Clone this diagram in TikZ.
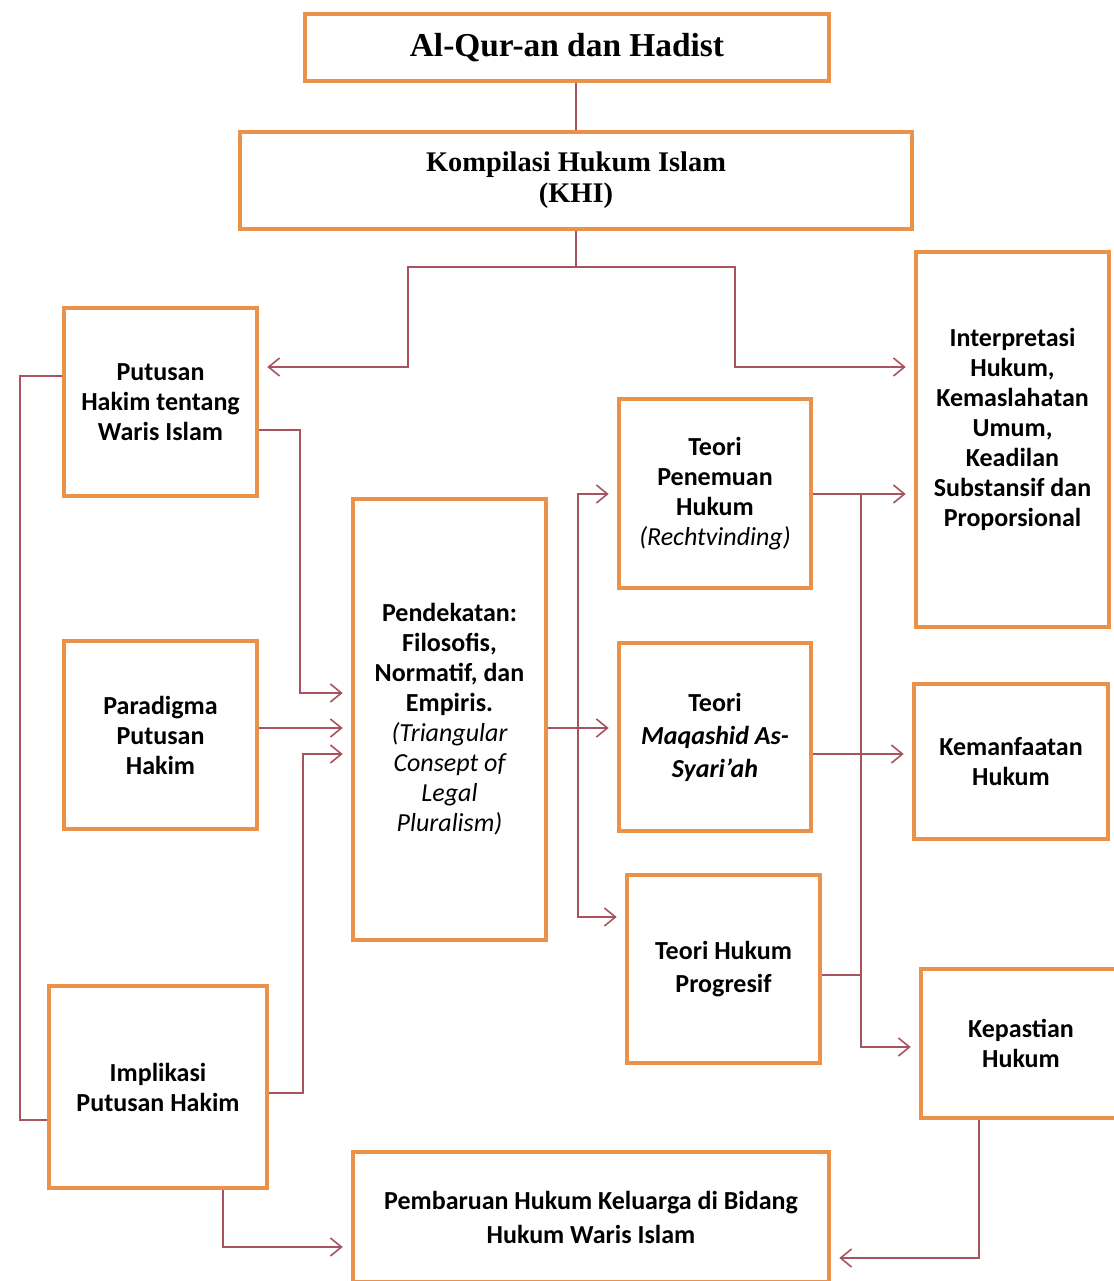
\documentclass[tikz,border=0pt]{standalone}
\usepackage{fontspec}
\setmainfont{Liberation Serif}
\setsansfont{Carlito}
\usetikzlibrary{arrows.meta, calc}

\definecolor{boxorange}{RGB}{234,146,74}
\definecolor{linkred}{RGB}{168,84,96}

\begin{document}
\begin{tikzpicture}[x=0.5pt, y=-0.5pt,
    box/.style={draw=boxorange, line width=2.3pt, align=center, inner sep=0pt,
      font=\sffamily\bfseries\fontsize{13}{15}\selectfont},
    link/.style={draw=linkred, line width=0.8pt},
    arrow/.style={link, -{Straight Barb[length=5.5pt,width=9pt]}, shorten >=4pt}]

      \useasboundingbox (0,0) rectangle (1114,1281);

      \node[box, minimum width=262pt, minimum height=33.5pt,
        font=\rmfamily\bfseries\fontsize{16.7}{19}\selectfont] (quran) at (567,47.5) {Al-Qur-an dan Hadist};
      \node[box, minimum width=336pt, minimum height=48.5pt,
        font=\rmfamily\bfseries\fontsize{14.2}{15.5}\selectfont] (khi) at (576,180.5) {Kompilasi Hukum Islam\\(KHI)};

      \node[box, minimum width=96.5pt, minimum height=94pt] (putusan) at (160.5,402) {Putusan\\Hakim tentang\\Waris Islam};
      \node[box, minimum width=96.5pt, minimum height=94pt] (paradigma) at (160.5,735) {Paradigma\\Putusan\\Hakim};
      \node[box, minimum width=109pt, minimum height=101pt] (implikasi) at (158,1087) {Implikasi\\Putusan Hakim};

      \node[box, minimum width=96.5pt, minimum height=220.5pt] (pendek) at (449.5,719.5)
        {Pendekatan:\\Filosofis,\\Normatif, dan\\Empiris.\\{\mdseries\itshape (Triangular}\\{\mdseries\itshape Consept of}\\{\mdseries\itshape Legal}\\{\mdseries\itshape Pluralism)}};

      \node[box, minimum width=96pt, minimum height=94.5pt] (penemuan) at (715,493.5)
        {Teori\\Penemuan\\Hukum\\{\mdseries\itshape (Rechtvinding)}};
      \node[box, minimum width=96pt, minimum height=94pt,
        font=\sffamily\bfseries\fontsize{13}{16.5}\selectfont] (maqashid) at (715,737)
        {Teori\\{\itshape Maqashid As-}\\{\itshape Syari’ah}};
      \node[box, minimum width=96.5pt, minimum height=94pt,
        font=\sffamily\bfseries\fontsize{13}{16.5}\selectfont] (progresif) at (723.5,969) {Teori Hukum\\Progresif};

      \node[box, minimum width=96.5pt, minimum height=187.5pt] (interp) at (1012.5,439.5)
        {Interpretasi\\Hukum,\\Kemaslahatan\\Umum,\\Keadilan\\Substansif dan\\Proporsional\\[-3pt]};
      \node[box, minimum width=97pt, minimum height=77.5pt] (kemanfaatan) at (1011,761.5) {Kemanfaatan\\Hukum};
      \node[box, minimum width=100pt, minimum height=74.5pt] (kepastian) at (1021,1043.5) {Kepastian\\Hukum};

      \node[box, minimum width=238pt, minimum height=65pt,
        font=\sffamily\bfseries\fontsize{13}{17}\selectfont] (pembaruan) at (591,1217)
        {Pembaruan Hukum Keluarga di Bidang\\Hukum Waris Islam};

      \draw[link] (khi.north |- quran.south) -- (khi.north);

      \coordinate (split) at (576,267);
      \draw[arrow] (khi.south) -- (split) -| (408,320) |- (putusan.east |- 0,367);
      \draw[arrow] (split) -| (735,320) |- (interp.west |- 0,367);

      \draw[arrow] (putusan.east |- 0,430) -| (300,600) |- (pendek.west |- 0,693);
      \draw[arrow] (paradigma.east |- 0,728) -- (pendek.west |- 0,728);
      \draw[arrow] (implikasi.east |- 0,1093) -| (303,900) |- (pendek.west |- 0,754);
      \draw[link] (putusan.west |- 0,376) -| (20,800) |- (implikasi.west |- 0,1120);
      \draw[arrow] (implikasi.south -| 223,0) |- (pembaruan.west |- 0,1247);

      \coordinate (fan) at (578,728);
      \draw[link] (pendek.east |- fan) -- (fan);
      \draw[arrow] (fan) |- (penemuan.west |- 0,494);
      \draw[arrow] (fan) -- (maqashid.west |- fan);
      \draw[arrow] (fan) |- (progresif.west |- 0,917);

      \coordinate (rise) at (861,494);
      \draw[arrow] (penemuan.east |- rise) -- (interp.west |- rise);
      \draw[arrow] (rise) |- (kepastian.west |- 0,1047);
      \draw[link] (progresif.east |- 0,975) -- (rise |- 0,975);
      \draw[arrow] (maqashid.east |- 0,754) -- (kemanfaatan.west |- 0,754);

      \draw[arrow] (kepastian.south -| 979,0) |- (pembaruan.east |- 0,1258);

\end{tikzpicture}
\end{document}
